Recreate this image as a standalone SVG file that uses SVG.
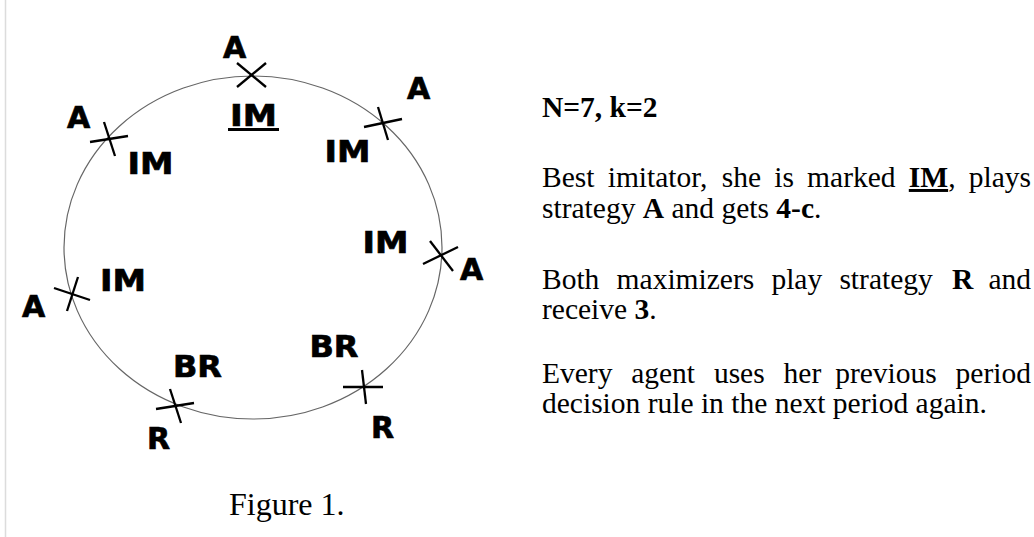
<svg xmlns="http://www.w3.org/2000/svg" width="1034" height="537" viewBox="0 0 1034 537">
<style>
.lbl{font-family:"DejaVu Sans","Verdana",sans-serif;font-weight:bold;font-size:30px;fill:#000;stroke:#000;stroke-width:0.7;text-anchor:middle}
.x{stroke:#000;stroke-width:2.3;stroke-linecap:butt}
.txt{font-family:"Liberation Serif","Times New Roman",serif;font-size:29.5px;fill:#000}
.b{font-weight:bold}
</style>
<rect width="1034" height="537" fill="#fff"/>
<line x1="5.5" y1="0" x2="5.5" y2="537" stroke="#dcdcdc" stroke-width="1.5"/>
<g id="ring">
<ellipse cx="253" cy="247.5" rx="189" ry="171.5" fill="none" stroke="#666" stroke-width="1.2"/>
</g>
<g id="connectors"></g>
<g id="agent-top">
<line class="x" x1="237" y1="63" x2="266" y2="87"/><line class="x" x1="237" y1="87" x2="266" y2="63"/>
<text class="lbl" x="234.5" y="58">A</text>
<text class="lbl" x="253.5" y="126" textLength="47" lengthAdjust="spacingAndGlyphs">IM</text>
<line x1="228" y1="129.5" x2="279" y2="129.5" stroke="#000" stroke-width="2.8"/>
</g>
<g id="agent-upper-left">
<line class="x" x1="90" y1="142" x2="128" y2="136"/><line class="x" x1="104" y1="122" x2="115" y2="156"/>
<text class="lbl" x="78.5" y="128">A</text>
<text class="lbl" x="150.5" y="174" textLength="46" lengthAdjust="spacingAndGlyphs">IM</text>
</g>
<g id="agent-upper-right">
<line class="x" x1="364" y1="127" x2="402" y2="119"/><line class="x" x1="378" y1="107" x2="388" y2="140"/>
<text class="lbl" x="418.5" y="99">A</text>
<text class="lbl" x="347.5" y="162" textLength="46" lengthAdjust="spacingAndGlyphs">IM</text>
</g>
<g id="agent-right">
<line class="x" x1="423" y1="264" x2="458" y2="247"/><line class="x" x1="430" y1="241" x2="453" y2="271"/>
<text class="lbl" x="471.5" y="280">A</text>
<text class="lbl" x="385.5" y="253" textLength="46" lengthAdjust="spacingAndGlyphs">IM</text>
</g>
<g id="agent-left">
<line class="x" x1="54" y1="288" x2="90" y2="300"/><line class="x" x1="78" y1="277" x2="67" y2="311"/>
<text class="lbl" x="33.5" y="317">A</text>
<text class="lbl" x="123" y="291" textLength="46" lengthAdjust="spacingAndGlyphs">IM</text>
</g>
<g id="agent-bottom-left">
<line class="x" x1="156" y1="409" x2="194" y2="403"/><line class="x" x1="170" y1="389" x2="181" y2="423"/>
<text class="lbl" x="158.5" y="449">R</text>
<text class="lbl" x="197.5" y="377" textLength="49" lengthAdjust="spacingAndGlyphs">BR</text>
</g>
<g id="agent-bottom-right">
<line class="x" x1="343" y1="387" x2="383" y2="387"/><line class="x" x1="362" y1="370" x2="366" y2="404"/>
<text class="lbl" x="382.5" y="438">R</text>
<text class="lbl" x="334" y="357" textLength="49" lengthAdjust="spacingAndGlyphs">BR</text>
</g>
<text class="txt" x="229" y="515" style="font-size:32px">Figure 1.</text>
<g id="description">
<text class="txt b" x="542" y="117">N=7, k=2</text>
<text class="txt" y="187"><tspan x="542">Best</tspan><tspan x="607.7">imitator,</tspan><tspan x="721.7">she</tspan><tspan x="774.2">is</tspan><tspan x="807.1">marked</tspan><tspan x="908.8" class="b" text-decoration="underline">IM</tspan><tspan>,</tspan><tspan x="968.7">plays</tspan></text>
<text class="txt" x="542" y="218">strategy <tspan class="b">A</tspan> and gets <tspan class="b">4-c</tspan>.</text>
<text class="txt" y="289"><tspan x="542">Both</tspan><tspan x="616.6">maximizers</tspan><tspan x="771.4">play</tspan><tspan x="839.4">strategy</tspan><tspan x="952" class="b">R</tspan><tspan x="988.5">and</tspan></text>
<text class="txt" x="542" y="319">receive <tspan class="b">3</tspan>.</text>
<text class="txt" y="383"><tspan x="542">Every</tspan><tspan x="631.2">agent</tspan><tspan x="713.9">uses</tspan><tspan x="783.6">her</tspan><tspan x="835.2">previous</tspan><tspan x="955.6">period</tspan></text>
<text class="txt" x="542" y="413">decision rule in the next period again.</text>
</g>
</svg>
